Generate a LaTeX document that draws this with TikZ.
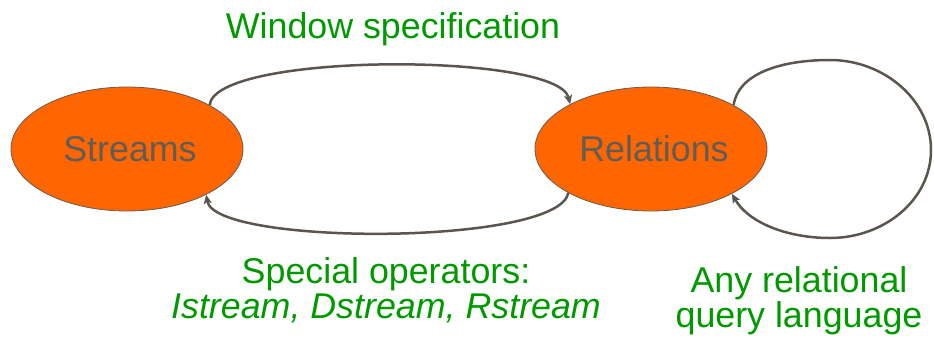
\documentclass[tikz,border=0pt]{standalone}
\usepackage{fontspec}
\setmainfont{Liberation Sans}
\usetikzlibrary{arrows.meta,shapes.geometric}
\definecolor{stateorange}{RGB}{255,102,0}
\definecolor{stateedge}{RGB}{100,92,84}
\definecolor{statetext}{RGB}{95,93,88}
\definecolor{flowline}{RGB}{92,85,77}
\definecolor{labelgreen}{RGB}{0,153,0}
\begin{document}
\begin{tikzpicture}[x=1pt,y=-1pt,
  state/.style={ellipse, fill=stateorange, draw=stateedge, line width=0.8pt,
    minimum width=232pt, minimum height=124pt, inner sep=0pt,
    text=statetext, font={\fontsize{35.8}{35}\selectfont},
    execute at begin node={\hspace*{6pt}}},
  flow/.style={draw=flowline, line width=2.5pt,
    -{Stealth[length=9pt,width=8pt,inset=2pt]}},
  caption/.style={text=labelgreen, inner sep=0pt, align=center,
    font={\fontsize{35.8}{35}\selectfont}}]
\useasboundingbox (0,0) rectangle (934,338);

% the two states
\node[state] (S) at (127,149) {Streams};
\node[state] (R) at (651,149) {Relations};

% Streams -> Relations
\draw[flow] (S.28.5) .. controls (215,52) and (558,52) .. (R.151);
% Relations -> Streams
\draw[flow] (R.208.5) .. controls (558,246) and (215,246) .. (S.-30);
% Relations -> Relations
\draw[flow] (R.28.5) .. controls (738,74) and (780,60) .. (830,60)
  .. controls (884,60) and (931,100) .. (931,150)
  .. controls (931,200) and (884,238) .. (830,238)
  .. controls (786,238) and (748,222) .. (R.-29.6);

% edge captions
\node[caption, anchor=base] (win) at (393,38) {Window specification};
\node[caption, anchor=north] (ops) at (386,257)
  {Special operators:\\\itshape Istream, Dstream, Rstream};
\node[caption, anchor=north] (query) at (799,266)
  {Any relational\\query language};
\end{tikzpicture}
\end{document}
